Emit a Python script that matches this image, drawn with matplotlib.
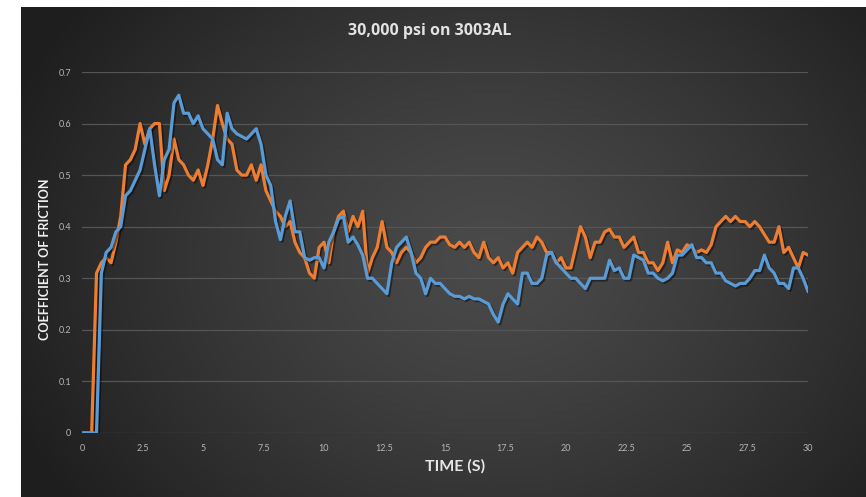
import numpy as np
import matplotlib
matplotlib.use("Agg")
import matplotlib.pyplot as plt
import matplotlib.patheffects as pe

# ---------------- data ----------------
time_s = np.round(np.arange(0, 30.001, 0.2), 2)

orange_cof = [
    0, 0, 0, 0.31, 0.33, 0.34, 0.33, 0.37, 0.42, 0.52,
    0.53, 0.55, 0.60, 0.56, 0.59, 0.60, 0.60, 0.47, 0.50, 0.57,
    0.53, 0.52, 0.50, 0.49, 0.51, 0.48, 0.52, 0.57, 0.635, 0.60,
    0.57, 0.56, 0.51, 0.50, 0.50, 0.52, 0.49, 0.52, 0.47, 0.45,
    0.43, 0.42, 0.40, 0.41, 0.37, 0.35, 0.34, 0.31, 0.30, 0.36,
    0.37, 0.33, 0.39, 0.42, 0.43, 0.39, 0.42, 0.40, 0.43, 0.31,
    0.34, 0.36, 0.41, 0.36, 0.35, 0.33, 0.35, 0.36, 0.35, 0.33,
    0.34, 0.36, 0.37, 0.37, 0.38, 0.38, 0.365, 0.36, 0.37, 0.36,
    0.37, 0.35, 0.34, 0.37, 0.34, 0.33, 0.34, 0.32, 0.33, 0.31,
    0.35, 0.36, 0.37, 0.36, 0.38, 0.37, 0.35, 0.35, 0.33, 0.34,
    0.32, 0.32, 0.36, 0.40, 0.38, 0.34, 0.37, 0.37, 0.39, 0.395,
    0.38, 0.38, 0.36, 0.37, 0.38, 0.35, 0.35, 0.33, 0.33, 0.315,
    0.33, 0.37, 0.33, 0.355, 0.35, 0.365, 0.36, 0.35, 0.355, 0.35,
    0.365, 0.40, 0.41, 0.42, 0.41, 0.42, 0.41, 0.41, 0.40, 0.41,
    0.40, 0.385, 0.37, 0.37, 0.40, 0.35, 0.36, 0.34, 0.32, 0.35,
    0.345,
]

blue_cof = [
    0, 0, 0, 0, 0.31, 0.35, 0.36, 0.39, 0.40, 0.46,
    0.47, 0.49, 0.51, 0.55, 0.59, 0.52, 0.46, 0.53, 0.55, 0.64,
    0.655, 0.62, 0.62, 0.60, 0.615, 0.59, 0.58, 0.57, 0.53, 0.52,
    0.62, 0.59, 0.58, 0.575, 0.57, 0.58, 0.59, 0.56, 0.50, 0.48,
    0.41, 0.375, 0.42, 0.45, 0.39, 0.39, 0.34, 0.335, 0.34, 0.34,
    0.32, 0.37, 0.39, 0.415, 0.42, 0.37, 0.38, 0.365, 0.345, 0.30,
    0.30, 0.29, 0.28, 0.27, 0.33, 0.36, 0.37, 0.38, 0.35, 0.31,
    0.30, 0.27, 0.30, 0.29, 0.29, 0.28, 0.27, 0.265, 0.265, 0.26,
    0.265, 0.26, 0.26, 0.255, 0.25, 0.23, 0.215, 0.25, 0.27, 0.26,
    0.25, 0.31, 0.31, 0.29, 0.29, 0.30, 0.345, 0.35, 0.33, 0.32,
    0.31, 0.30, 0.30, 0.29, 0.28, 0.30, 0.30, 0.30, 0.30, 0.335,
    0.315, 0.32, 0.30, 0.30, 0.345, 0.34, 0.335, 0.31, 0.31, 0.30,
    0.295, 0.30, 0.31, 0.345, 0.345, 0.355, 0.365, 0.34, 0.34, 0.33,
    0.33, 0.31, 0.31, 0.295, 0.29, 0.285, 0.29, 0.29, 0.30, 0.315,
    0.315, 0.345, 0.32, 0.31, 0.29, 0.29, 0.28, 0.32, 0.32, 0.30,
    0.275,
]

x_ticks = [0, 2.5, 5, 7.5, 10, 12.5, 15, 17.5, 20, 22.5, 25, 27.5, 30]
x_tick_labels = ["0", "2.5", "5", "7.5", "10", "12.5", "15", "17.5", "20",
                 "22.5", "25", "27.5", "30"]
y_ticks = [0, 0.1, 0.2, 0.3, 0.4, 0.5, 0.6, 0.7]
y_tick_labels = ["0", "0.1", "0.2", "0.3", "0.4", "0.5", "0.6", "0.7"]

title_text = "30,000 psi on 3003AL"
x_label = "TIME (S)"
y_label = "COEFFICIENT OF FRICTION"

# ---------------- figure ----------------
W, H = 866, 497
fig = plt.figure(figsize=(W / 100, H / 100), dpi=100, facecolor="white")

# dark radial-gradient panel
bg_ax = fig.add_axes([21 / W, 0, 1 - 21 / W, 1 - 7 / H])
bg_ax.set_axis_off()
gy, gx = np.mgrid[0:490, 0:845]
cx, cy = 470, 250
r = np.sqrt(((gx - cx) / 520.0) ** 2 + ((gy - cy) / 420.0) ** 2)
r = np.clip(r, 0, 1)
light = np.array([0x4a, 0x4a, 0x4a]) / 255.0
dark = np.array([0x1e, 0x1e, 0x1e]) / 255.0
img = light[None, None, :] * (1 - r[..., None] ** 1.3) + dark[None, None, :] * (r[..., None] ** 1.3)
bg_ax.imshow(img, aspect="auto", extent=[0, 1, 0, 1], origin="upper")

ax = fig.add_axes([82 / W, 1 - 433 / H, (808 - 82) / W, (433 - 72) / H])
ax.patch.set_alpha(0)

shadow = [pe.SimpleLineShadow(offset=(1.2, -1.2), shadow_color="black", alpha=0.45), pe.Normal()]
ax.plot(time_s, orange_cof, color="#ED7D31", lw=2.3, solid_joinstyle="round",
        path_effects=shadow, zorder=3)
ax.plot(time_s, blue_cof, color="#5B9BD5", lw=2.3, solid_joinstyle="round",
        path_effects=shadow, zorder=4)

ax.set_xlim(0, 30)
ax.set_ylim(0, 0.7)
ax.set_xticks(x_ticks)
ax.set_xticklabels(x_tick_labels)
ax.set_yticks(y_ticks)
ax.set_yticklabels(y_tick_labels)
ax.tick_params(length=0, colors="#b5b5b5", labelsize=6.5, pad=8)
for lbl in ax.get_xticklabels() + ax.get_yticklabels():
    lbl.set_fontfamily("Lato")
for s in ax.spines.values():
    s.set_visible(False)
ax.grid(axis="y", color="#555555", lw=0.9, zorder=1)
ax.set_axisbelow(True)

fig.text(430 / W, 1 - 31 / H, title_text, ha="center", va="center",
         color="#e2e2e2", fontsize=11.5, fontweight="bold", family="Open Sans")
fig.text(455 / W, 1 - 466 / H, x_label, ha="center", va="center",
         color="#e6e6e6", fontsize=11.5, fontweight="bold", family="Lato")
fig.text(45 / W, 1 - 259 / H, y_label, ha="center", va="center", rotation=90,
         color="#f0f0f0", fontsize=9, fontweight="bold", family="Lato")

fig.savefig("out.png", dpi=100, facecolor="white")
